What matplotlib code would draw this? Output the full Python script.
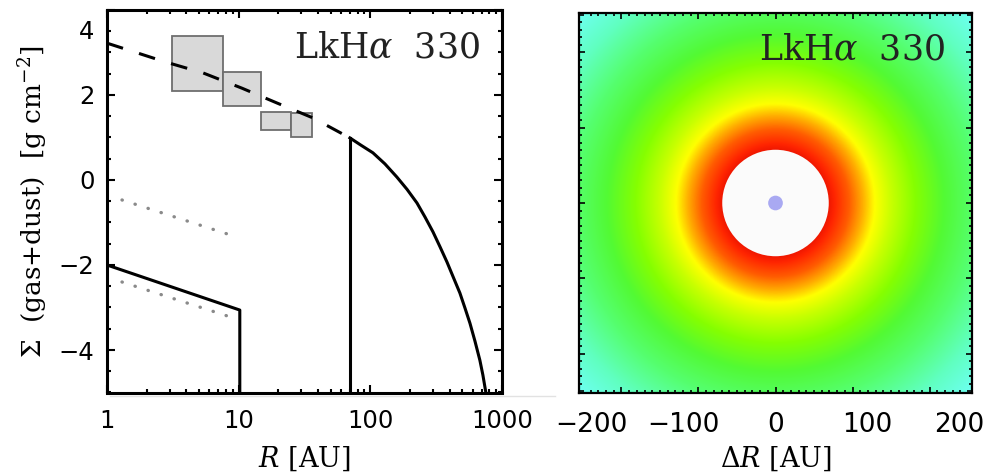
import numpy as np
import matplotlib
matplotlib.use('Agg')
import matplotlib.pyplot as plt
from matplotlib import rcParams
from matplotlib.colors import LinearSegmentedColormap
from matplotlib.patches import Rectangle, Circle
from matplotlib.lines import Line2D
from matplotlib.ticker import MultipleLocator, LogLocator, NullFormatter
from matplotlib.transforms import ScaledTranslation

rcParams['font.family'] = 'DejaVu Sans'
rcParams['mathtext.fontset'] = 'dejavuserif'

# surface density model, log10 Sigma vs R [AU]
dash_R = [1.0, 2.76, 5.36, 10.6, 19.6, 36.7, 70.0]
dash_S = [3.22, 2.78, 2.52, 2.16, 1.81, 1.46, 0.99]

outer_R = [70.0, 84.8, 104.6, 129, 159, 190, 226, 260, 299, 338, 382, 431,
           479, 523, 571, 623, 679, 716, 755, 770]
outer_S = [0.99, 0.82, 0.64, 0.38, 0.07, -0.22, -0.54, -0.87, -1.22, -1.57,
           -1.93, -2.32, -2.66, -3.01, -3.37, -3.79, -4.24, -4.59, -5.01, -5.18]
cav_R = 70.0

inner_R = [1.0, 10.2, 10.2]
inner_S = [-2.0, -3.06, -5.2]

dot_hi_R = [1.3, 8.6]
dot_hi_S = [-0.47, -1.29]
dot_lo_R = [1.3, 8.6]
dot_lo_S = [-2.40, -3.22]

# gray boxes (R range, Sigma range)
box_R0 = [3.12, 7.6, 14.8, 25.0]
box_R1 = [7.6, 14.8, 25.0, 36.0]
box_lo = [2.09, 1.74, 1.18, 1.01]
box_hi = [3.39, 2.54, 1.60, 1.58]

# image: colour of the disk vs radius [AU]
hole_r = 58
star_r = 8
ring_r = [58, 64, 80, 95, 108, 126, 152, 184, 220, 260, 300]
ring_c = ['#f01800', '#ff2400', '#ff5c00', '#ffae00', '#ffff00', '#c8ff00',
          '#86ff00', '#52fa34', '#55ff70', '#60ffc0', '#6efff5']

xt_left = [1, 10, 100, 1000]
yt_left = [-4, -2, 0, 2, 4]
xt_right = [-200, -100, 0, 100, 200]

W, H = 988, 473
fig = plt.figure(figsize=(W / 100, H / 100), dpi=100)

# ---------------- left panel
ax = fig.add_axes([107 / W, 1 - 392.5 / H, 395 / W, 382.5 / H])
ax.set_xscale('log')
ax.set_xlim(1, 1000)
ax.set_ylim(-5, 4)

for r0, r1, lo, hi in zip(box_R0, box_R1, box_lo, box_hi):
    ax.add_patch(Rectangle((r0, lo), r1 - r0, hi - lo, facecolor='#d9d9d9',
                           edgecolor='#6e6e6e', lw=1.3, zorder=2))

ax.plot(dash_R, dash_S, color='k', lw=2.2, dashes=(5.5, 5.5), zorder=3)
ax.plot(outer_R, outer_S, color='k', lw=2.2, zorder=3, solid_joinstyle='round')
ax.plot([cav_R, cav_R], [-5.2, outer_S[0]], color='k', lw=2.2, zorder=3)
ax.plot(inner_R, inner_S, color='k', lw=2.2, zorder=3)
for rr, ss in [(dot_hi_R, dot_hi_S), (dot_lo_R, dot_lo_S)]:
    ax.plot(rr, ss, color='#8a8a8a', lw=2.4, linestyle=(0, (0.1, 4.0)),
            dash_capstyle='round', zorder=3)

ax.set_xticks(xt_left, [str(v) for v in xt_left])
ax.xaxis.set_minor_locator(LogLocator(base=10, subs=np.arange(2, 10)))
ax.xaxis.set_minor_formatter(NullFormatter())
ax.set_yticks(yt_left, [str(v).replace('-', '\u2212') for v in yt_left])
ax.yaxis.set_minor_locator(MultipleLocator(0.5))
ax.tick_params(which='both', direction='in', top=True, right=True, width=1.5)
ax.tick_params(which='major', length=6, labelsize=17.5)
ax.tick_params(which='minor', length=3)
ax.tick_params(axis='x', pad=12)
ax.tick_params(axis='y', pad=9)
for s in ax.spines.values():
    s.set_linewidth(2.2)
# the top label sits lower in the original
lab4 = ax.yaxis.get_major_ticks()[-1].label1
lab4.set_transform(lab4.get_transform() + ScaledTranslation(0, -0.2, fig.dpi_scale_trans))

ax.set_xlabel('$R$ [AU]', family='DejaVu Serif', fontsize=19.5, labelpad=8)
ax.set_ylabel('$\\Sigma$  (gas+dust)  [g cm$^{-2}$]', family='DejaVu Serif',
              fontsize=19, labelpad=6)
ax.text(0.944, 0.903, 'LkH$\\alpha$  330', transform=ax.transAxes, ha='right',
        va='center', fontsize=25, family='DejaVu Serif', color='#222222')

# ---------------- right panel
pos = [579 / W, 1 - 393 / H, 393 / W, 380 / H]
ax2 = fig.add_axes(pos)
xg = np.linspace(-214, 214, 700)
yg = np.linspace(-207, 207, 700)
rg = np.hypot(*np.meshgrid(xg, yg))
stops = [(r - ring_r[0]) / (ring_r[-1] - ring_r[0]) for r in ring_r]
cmap = LinearSegmentedColormap.from_list('disk', list(zip(stops, ring_c)))
ax2.imshow(rg, extent=[-214, 214, -207, 207], origin='lower', cmap=cmap,
           vmin=ring_r[0], vmax=ring_r[-1], aspect='auto', interpolation='bilinear')
ax2.add_patch(Circle((0, 0), hole_r, facecolor='#fbfbfb', edgecolor='none'))
ax2.add_patch(Circle((0, 0), star_r, facecolor='#a9a9f2', edgecolor='none'))
ax2.set_xlim(-214, 214)
ax2.set_ylim(-207, 207)
ax2.set_xticks(xt_right, [str(v).replace('-', '\u2212') for v in xt_right])
ax2.set_yticks([])
ax2.tick_params(axis='x', length=0, labelsize=19, pad=14)
for s in ax2.spines.values():
    s.set_visible(False)
ax2.set_xlabel('$\\Delta R$ [AU]', family='DejaVu Serif', fontsize=19.5, labelpad=4)
ax2.text(0.931, 0.905, 'LkH$\\alpha$  330', transform=ax2.transAxes, ha='right',
         va='center', fontsize=25, family='DejaVu Serif', color='#222222')

# frame with its own tick marks
fr = fig.add_axes(pos)
fr.patch.set_visible(False)
fr.set_xlim(-2.55, 2.55)
fr.set_ylim(-2.52, 2.52)
fr.xaxis.set_major_locator(MultipleLocator(1))
fr.yaxis.set_major_locator(MultipleLocator(1))
fr.xaxis.set_minor_locator(MultipleLocator(0.1))
fr.yaxis.set_minor_locator(MultipleLocator(0.1))
fr.tick_params(which='both', direction='in', top=True, right=True, width=1.2,
               labelbottom=False, labelleft=False)
fr.tick_params(which='major', length=4.5)
fr.tick_params(which='minor', length=2)
for s in fr.spines.values():
    s.set_linewidth(1.6)

fig.add_artist(Line2D([110 / W, 555 / W], [1 - 396 / H] * 2, color='#e2e2e2', lw=1))

fig.savefig('out.png', dpi=100)
